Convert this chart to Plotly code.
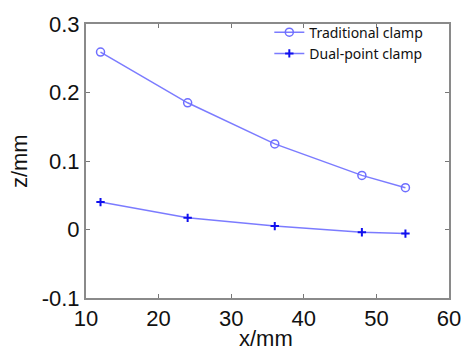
import plotly.graph_objects as go

# Measured deflection along the workpiece
x_mm = [12, 24, 36, 48, 54]
z_traditional = [0.259, 0.185, 0.125, 0.079, 0.061]
z_dual_point = [0.040, 0.017, 0.005, -0.004, -0.006]

series_names = ["Traditional clamp", "Dual-point clamp"]
x_ticks = [10, 20, 30, 40, 50, 60]
y_ticks = [-0.1, 0, 0.1, 0.2, 0.3]
y_tick_text = ["-0.1", "0", "0.1", "0.2", "0.3"]

line_color = "rgba(100,100,255,0.85)"
tick_font = dict(family="Liberation Sans, Arial, sans-serif", size=22, color="#111")

fig = go.Figure()
fig.add_trace(go.Scatter(
    x=x_mm, y=z_traditional, name=series_names[0], mode="lines+markers",
    line=dict(color=line_color, width=1.5),
    marker=dict(symbol="circle-open", size=8, color="rgba(110,110,255,1)",
                line=dict(width=1.5)),
))
fig.add_trace(go.Scatter(
    x=x_mm, y=z_dual_point, name=series_names[1], mode="lines+markers",
    line=dict(color=line_color, width=1.5),
    marker=dict(symbol="cross-thin-open", size=6, color="#1010ee",
                line=dict(width=2, color="#1010ee")),
))

axis_common = dict(
    showgrid=False, zeroline=False, showline=True, mirror="ticks",
    linecolor="#8a8a8a", linewidth=2, ticks="inside", ticklen=4,
    tickcolor="#777", tickwidth=1, tickfont=tick_font,
)

fig.update_layout(
    width=473, height=351,
    margin=dict(l=86, r=15, t=17, b=53),
    paper_bgcolor="white", plot_bgcolor="white",
    showlegend=True,
    legend=dict(
        x=0.505, y=1.027, xanchor="left", yanchor="top",
        bgcolor="rgba(255,255,255,0)", borderwidth=0,
        font=dict(family="Noto Sans, Open Sans, sans-serif", size=14, color="#111"),
        tracegroupgap=0, itemwidth=30,
    ),
    xaxis=dict(range=[10, 60], tickvals=x_ticks, **axis_common),
    yaxis=dict(range=[-0.1, 0.3], tickvals=y_ticks, ticktext=y_tick_text,
               **axis_common),
    annotations=[
        dict(text="x/mm", xref="paper", yref="paper", x=0.495, y=-0.149,
             showarrow=False, xanchor="center", yanchor="middle",
             font=dict(family="Liberation Sans, Arial, sans-serif", size=22, color="#111")),
        dict(text="z/mm", xref="paper", yref="paper", x=-0.183, y=0.498,
             showarrow=False, xanchor="center", yanchor="middle", textangle=-90,
             font=dict(family="Liberation Sans, Arial, sans-serif", size=22, color="#111")),
    ],
)

fig.write_html("out.html")
